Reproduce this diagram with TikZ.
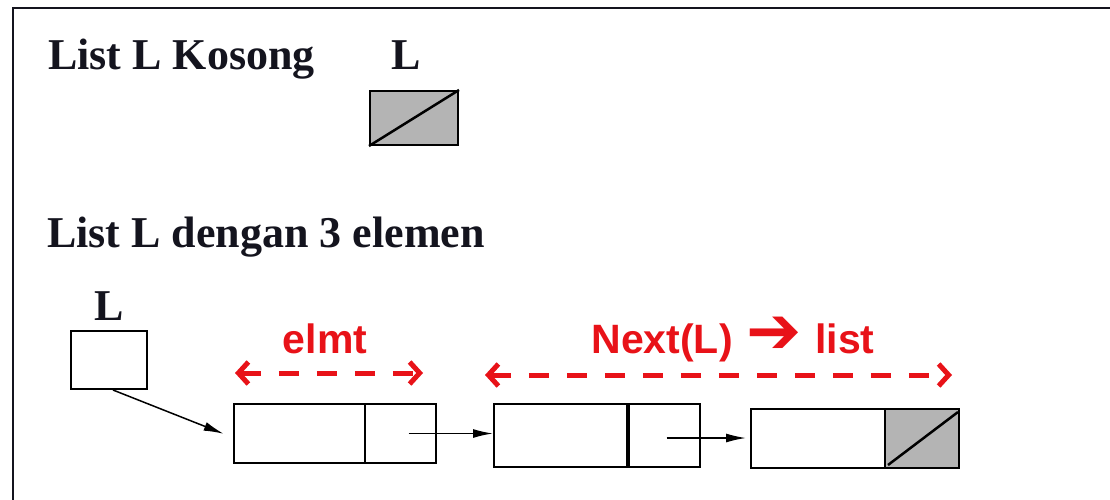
\documentclass[tikz,border=0pt]{standalone}
\usepackage{fontspec}
\setmainfont{Liberation Serif}
\newfontfamily\sansf{Liberation Sans}
\newfontfamily\djv{DejaVu Sans}
\usetikzlibrary{arrows.meta}
\definecolor{lred}{RGB}{232,18,24}
\definecolor{cellgray}{RGB}{180,180,180}
\definecolor{ink}{RGB}{20,20,30}
\tikzset{
  cell/.style={draw=black, line width=2pt, inner sep=0pt, anchor=north west},
  heading/.style={font=\fontsize{44}{50}\selectfont\bfseries, text=ink, inner sep=0pt, anchor=base west},
  lbl/.style={font=\fontsize{41}{46}\selectfont\sansf\bfseries, text=lred, inner sep=0pt, anchor=base},
  ptr/.style={draw=black, line width=1.5pt, -{Latex[length=20pt,width=9pt]}},
  span/.style={draw=lred, line width=5pt, dash pattern=on 20pt off 18pt,
    {Straight Barb[length=10pt,width=22pt]}-{Straight Barb[length=10pt,width=22pt]}},
}
\begin{document}
\begin{tikzpicture}[x=1pt,y=-1pt]
\useasboundingbox (0,0) rectangle (1110,500);
% frame
\draw[line width=2pt, draw=ink] (13,500) -- (13,8) -- (1110,8);
% headings
\node[heading] (h1) at (48,70) {List L Kosong};
\node[heading] (h2) at (47,247) {List L dengan 3 elemen};
% empty list
\node[heading, anchor=base] (lab0) at (406,70) {L};
\node[cell, fill=cellgray, minimum width=88pt, minimum height=54pt] (nil0) at (369,90) {};
\draw[line width=2.5pt] (nil0.south west) -- (nil0.north east);
% list with 3 elements
\node[heading, anchor=base] (lab1) at (109,320) {L};
\node[cell, minimum width=76pt, minimum height=58pt] (Lb) at (70,330) {};
% element 1
\node[cell, minimum width=131pt, minimum height=59pt] (e1d) at (233,403) {};
\node[cell, minimum width=71pt, minimum height=59pt] (e1n) at (364,403) {};
% element 2
\node[cell, minimum width=135pt, minimum height=63pt] (e2d) at (493,403) {};
\node[cell, minimum width=71pt, minimum height=63pt] (e2n) at (628,403) {};
\draw[line width=4pt] (e2n.north west) -- (e2n.south west);
% element 3
\node[cell, minimum width=134pt, minimum height=59pt] (e3d) at (750,408) {};
\node[cell, fill=cellgray, minimum width=74pt, minimum height=59pt] (e3n) at (884,408) {};
\draw[line width=2.5pt] ([shift={(4,-4)}]e3n.south west) -- ([shift={(-2,4)}]e3n.north east);
% pointers
\draw[ptr, shorten >=10pt] ([xshift=4pt]Lb.south) -- ([shift={(0,4)}]e1d.west);
\draw[ptr] ([xshift=8pt]e1n.center) -- (e1n.center -| e2d.west);
\coordinate (p2) at ([shift={(2,2.5)}]e2n.center);
\draw[ptr, shorten >=4pt] (p2) -- (p2 -| e3d.west);
% spans
\coordinate (s1a) at (235,373);
\coordinate (s1b) at (423,373);
\coordinate (s2a) at (485,375);
\coordinate (s2b) at (952,375);
\draw[span] (s1a) -- (s1b);
\draw[span] (s2a) -- (s2b);
\node[lbl] (t1) at (325,353) {elmt};
\node[lbl] (t2) at (733,353) {Next(L)\,\,{\djv\fontsize{66}{70}\selectfont ➔}\,\,list};
\end{tikzpicture}
\end{document}
